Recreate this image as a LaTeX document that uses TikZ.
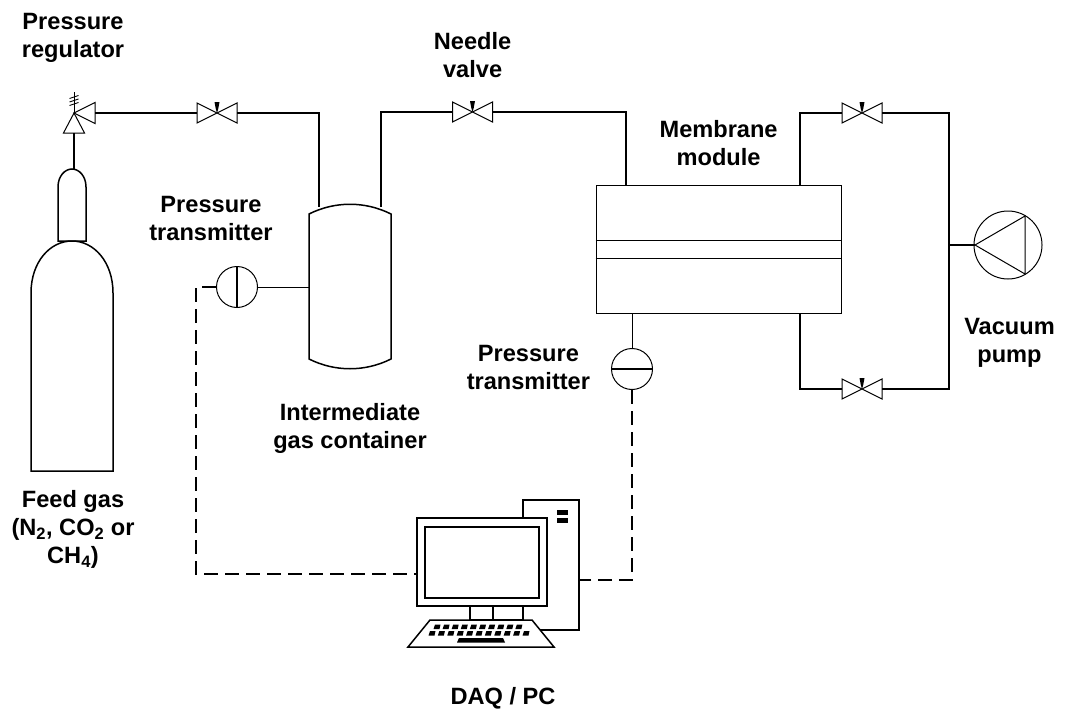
\documentclass[tikz,border=0pt]{standalone}
\usepackage{fontspec}
\usetikzlibrary{calc}
\setmainfont{Liberation Sans}
\newcommand{\lsub}[1]{\textsubscript{#1}}
\tikzset{
  x=1pt,y=-1pt,
  pipe/.style={line width=1.5pt,black},
  sym/.style={line width=1pt,black},
  sig/.style={line width=1.3pt,black,dash pattern=on 14pt off 7pt},
  lab/.style={font=\fontsize{23.6}{28}\selectfont\bfseries,align=center,text=black,inner sep=0pt,anchor=base},
  transmitter/.style={circle,draw,line width=1pt,minimum size=41pt,inner sep=0pt},
  pc/.style={line width=1.5pt,black,fill=white},
  valvemark/.pic={
    \draw[sym,fill=white] (-20,-10) -- (20,10) -- (20,-10) -- (-20,10) -- cycle;
    \fill[black] (-2.5,-11) -- (2.5,-11) -- (1.2,-4) -- (0,0) -- (-1.2,-4) -- cycle;
  }
}
\begin{document}
\begin{tikzpicture}
\useasboundingbox (0,0) rectangle (1065,709);
% named junctions
\coordinate (reg) at (74,113);
\coordinate (regR) at (95,113);
\coordinate (regD) at (74,133);
\coordinate (neckTop) at (74,169);
\coordinate (v1) at (217,113);
\coordinate (v2) at (472.5,112);
\coordinate (v3) at (862,113);
\coordinate (v4) at (862,389);
\coordinate (contL) at (319,207);
\coordinate (contR) at (381,207);
\coordinate (contW) at (309,287);
\coordinate (modIn) at (626,185);
\coordinate (modOutT) at (800,185);
\coordinate (modOutB) at (800,313);
\coordinate (modPT) at (632,313);
\coordinate (pumpIn) at (975,245);
\coordinate (pumpJ) at (949,245);
\coordinate (monL) at (417,574);
\coordinate (towR) at (579,580);
% cylinder
\draw[pipe,fill=white] (58,241) -- (58,187) .. controls (58,176) and (65,169) .. (72,169) .. controls (79,169) and (86,176) .. (86,187) -- (86,241) -- cycle;
\draw[pipe] (31,471) -- (31,293) .. controls (31,262) and (50,241) .. (72,241) .. controls (94,241) and (113,262) .. (113,293) -- (113,471) -- cycle;
% regulator
\draw[sym] (reg) -- (95,102.5) -- (95,123.5) -- cycle;
\draw[sym] (reg) -- (63.5,133) -- (84.5,133) -- cycle;
\draw[sym] (reg) -- (74,92);
\foreach \yy in {97,100.5,104}{\draw[line width=.9pt] (69.5,\yy+1.5) -- (78.5,\yy-1.5);}
\draw[pipe] (regD) -- (neckTop);
% valves
\path (v1) pic {valvemark};
\path (v2) pic {valvemark};
\path (v3) pic {valvemark};
\path (v4) pic {valvemark};
% pipes
\draw[pipe] (regR) -- ($(v1)+(-20,0)$);
\draw[pipe] ($(v1)+(20,0)$) -| (contL);
\draw[pipe] (contR) |- ($(v2)+(-20,0)$);
\draw[pipe] ($(v2)+(20,0)$) -| (modIn);
\draw[pipe] (modOutT) |- ($(v3)+(-20,0)$);
\draw[pipe] ($(v3)+(20,0)$) -| (949,389) -- ($(v4)+(20,0)$);
\draw[pipe] ($(v4)+(-20,0)$) -| (modOutB);
\draw[line width=2pt] (pumpJ) -- (pumpIn);
% container
\draw[pipe,fill=white] (309,214) .. controls (335,201) and (365,201) .. (391,214) -- (391,359) .. controls (365,372) and (335,372) .. (309,359) -- cycle;
% module
\node[draw,line width=1pt,minimum width=245pt,minimum height=128pt,inner sep=0pt] (module) at (718.5,249) {};
\draw[sym] (module.west |- 0,240) -- (module.east |- 0,240);
\draw[sym] (module.west |- 0,258) -- (module.east |- 0,258);
% pump
\node[circle,draw,line width=1pt,minimum size=68pt,inner sep=0pt] (pump) at (1008,245) {};
\draw[sym] (pumpIn) -- (1025,216) -- (1025,274) -- cycle;
% transmitters
\node[transmitter] (pt1) at (237,287) {};
\draw[line width=1.3pt] (pt1.north) -- (pt1.south);
\draw[sym] (pt1.east) -- (contW);
\node[transmitter] (pt2) at (632,369) {};
\draw[line width=1.3pt] (pt2.west) -- (pt2.east);
\draw[sym] (modPT) -- (pt2.north);
% signal lines
\draw[sig] (pt1.west) -| (196,574) -- (monL);
\draw[sig] (pt2.south) |- (towR);
% computer
\draw[pc] (523,518) -- (523,500) -- (579,500) -- (579,630) -- (540,630);
\fill (557,510) rectangle (568,515);
\fill (557,518) rectangle (568,522.5);
\draw[pc] (470,606) rectangle (493,620);
\draw[pc] (493,606) rectangle (523,620);
\draw[pc] (417,518) rectangle (547,606);
\draw[pc] (425,527) rectangle (539,598);
\draw[pc,line join=miter] (430,620) -- (532,620) -- (554,647) -- (408,647) -- cycle;
\foreach \i in {0,...,9}{
  \fill ({435+\i*9.1},624.5) -- ({440.5+\i*9.1},624.5) -- ({439.5+\i*9.1},629) -- ({433.5+\i*9.1},629) -- cycle;
}
\foreach \i in {0,...,10}{
  \fill ({430+\i*9.4},631) -- ({435.5+\i*9.4},631) -- ({434.5+\i*9.4},635.5) -- ({428.5+\i*9.4},635.5) -- cycle;
}
\fill (459,638) -- (503,638) -- (505,642.5) -- (457,642.5) -- cycle;
% labels
\node[lab] (t1) at (73,57.3) {Pressure\\regulator};
\node[lab] (t2) at (472.6,77.7) {Needle\\valve};
\node[lab] (t3) at (718.6,165.7) {Membrane\\module};
\node[lab] (t4) at (211,240.7) {Pressure\\transmitter};
\node[lab] (t5) at (528.4,389.7) {Pressure\\transmitter};
\node[lab] (t6) at (1009.5,362.3) {Vacuum\\pump};
\node[lab] (t7) at (350,448) {Intermediate\\gas container};
\node[lab] (t8) at (73,563.5) {Feed gas\\(N\lsub{2}, CO\lsub{2} or\\CH\lsub{4})};
\node[lab] (t9) at (503,704) {DAQ / PC};
\end{tikzpicture}
\end{document}
